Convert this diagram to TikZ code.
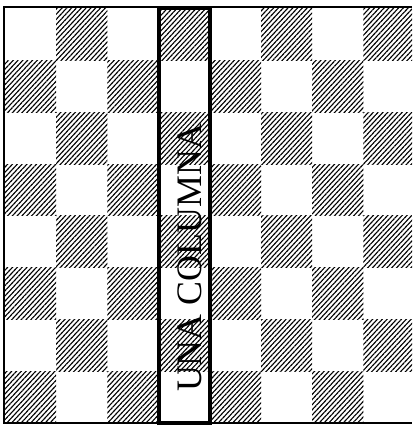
\documentclass[tikz,border=0pt]{standalone}
\usepackage{fontspec}
\setmainfont{Liberation Serif}
\usetikzlibrary{patterns.meta}

\begin{document}
\begin{tikzpicture}[x=0.025cm, y=-0.025cm,
    hatch/.style={pattern={Lines[angle=47, distance=2.5pt, line width=0.8pt]}},
    frame/.style={line width=2.1pt},
    colbox/.style={line width=2.8pt}]
    \useasboundingbox (0,0) rectangle (412,425);
    \begin{scope}
      \clip (0,0) rectangle (412,425);
      % hatched squares of the board
      \foreach \i in {0,...,7}
        \foreach \j in {0,...,7}
          {\ifodd\numexpr\i+\j\relax
             \path[hatch] (5+51.2*\i, 9+51.75*\j) rectangle ++(51.2,51.75);
           \fi}
    \end{scope}
    \coordinate (tr) at (412,7);
    \coordinate (tl) at (4,7);
    \coordinate (bl) at (4,423);
    \coordinate (br) at (412,423);
    \draw[frame] (tr) -- (tl) -- (bl) -- (br);
    \draw[colbox] (158.8,8.5) rectangle (210,423);
    \node[rotate=90, font=\fontsize{25.5}{30}\selectfont, inner sep=0pt] (lbl) at (189.5,258) {UNA COLUMNA};
\end{tikzpicture}
\end{document}
